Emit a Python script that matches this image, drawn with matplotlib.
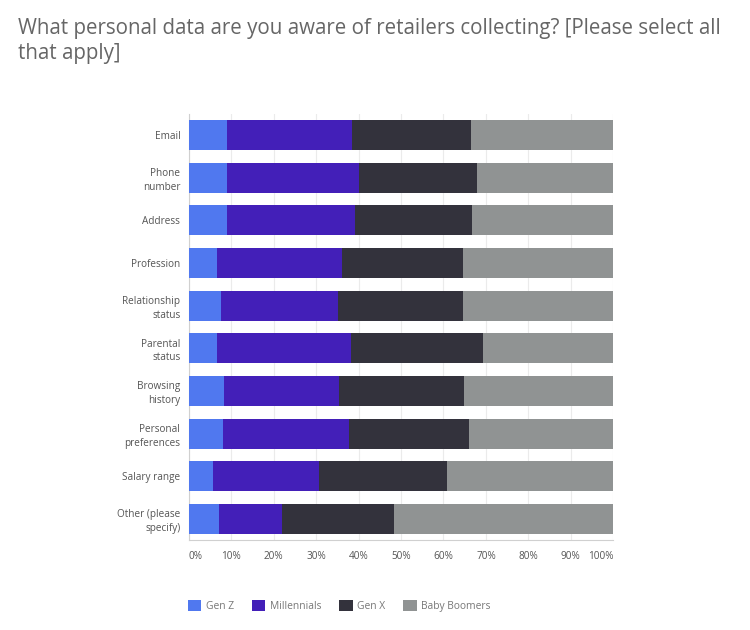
import matplotlib.pyplot as plt
import numpy as np

plt.rcParams['font.family'] = ['Open Sans', 'DejaVu Sans']

categories = ["Email", "Phone\nnumber", "Address", "Profession", "Relationship\nstatus",
              "Parental\nstatus", "Browsing\nhistory", "Personal\npreferences",
              "Salary range", "Other (please\nspecify)"]
gen_z = [9.1, 9.1, 9.1, 6.6, 7.5, 6.7, 8.2, 8.1, 5.8, 7.2]
millennials = [29.3, 30.9, 30.1, 29.4, 27.7, 31.6, 27.2, 29.6, 24.8, 14.7]
gen_x = [28.1, 27.9, 27.5, 28.5, 29.3, 31.1, 29.4, 28.4, 30.3, 26.5]
boomers = [33.5, 32.1, 33.3, 35.5, 35.5, 30.6, 35.2, 33.9, 39.1, 51.6]
series = ["Gen Z", "Millennials", "Gen X", "Baby Boomers"]
colors = ["#5078ef", "#431fb8", "#33323c", "#909393"]
ticks = [0, 10, 20, 30, 40, 50, 60, 70, 80, 90, 100]

fig = plt.figure(figsize=(7.5, 6.3), dpi=100)
ax = fig.add_axes([0.2516, 0.1424, 0.5661, 0.6771])

y = np.arange(len(categories))
left = np.zeros(len(categories))
for vals, name, c in zip([gen_z, millennials, gen_x, boomers], series, colors):
    ax.barh(y, vals, left=left, height=0.7, color=c, label=name, zorder=3)
    left += np.array(vals)

ax.set_ylim(len(categories) - 0.5, -0.5)
ax.set_xlim(0, 100)
ax.set_yticks(y)
ax.set_yticklabels(categories, fontsize=7.2, color="#555555", linespacing=1.3)
ax.set_xticks(ticks)
labels = ax.set_xticklabels([f"{t}%" for t in ticks], fontsize=7.2, color="#555555")
labels[0].set_ha("left")
labels[-1].set_ha("right")
ax.tick_params(length=0, pad=8)
ax.tick_params(axis="y", pad=6)
ax.grid(axis="x", color="#ebebeb", linewidth=0.8, zorder=0)
for s in ["top", "right"]:
    ax.spines[s].set_visible(False)
for s in ["left", "bottom"]:
    ax.spines[s].set_color("#d0d0d0")
    ax.spines[s].set_linewidth(0.8)

fig.text(0.024, 0.972, "What personal data are you aware of retailers collecting? [Please select all\nthat apply]",
         fontsize=14.8, color="#666666", va="top", ha="left", linespacing=1.25)

fig.legend(loc="lower left", bbox_to_anchor=(0.238, 0.014), ncol=4, frameon=False,
           fontsize=7.4, labelcolor="#777777", handlelength=1.3, handleheight=1.3,
           columnspacing=1.75, handletextpad=0.45)

fig.savefig("out.png", dpi=100)
